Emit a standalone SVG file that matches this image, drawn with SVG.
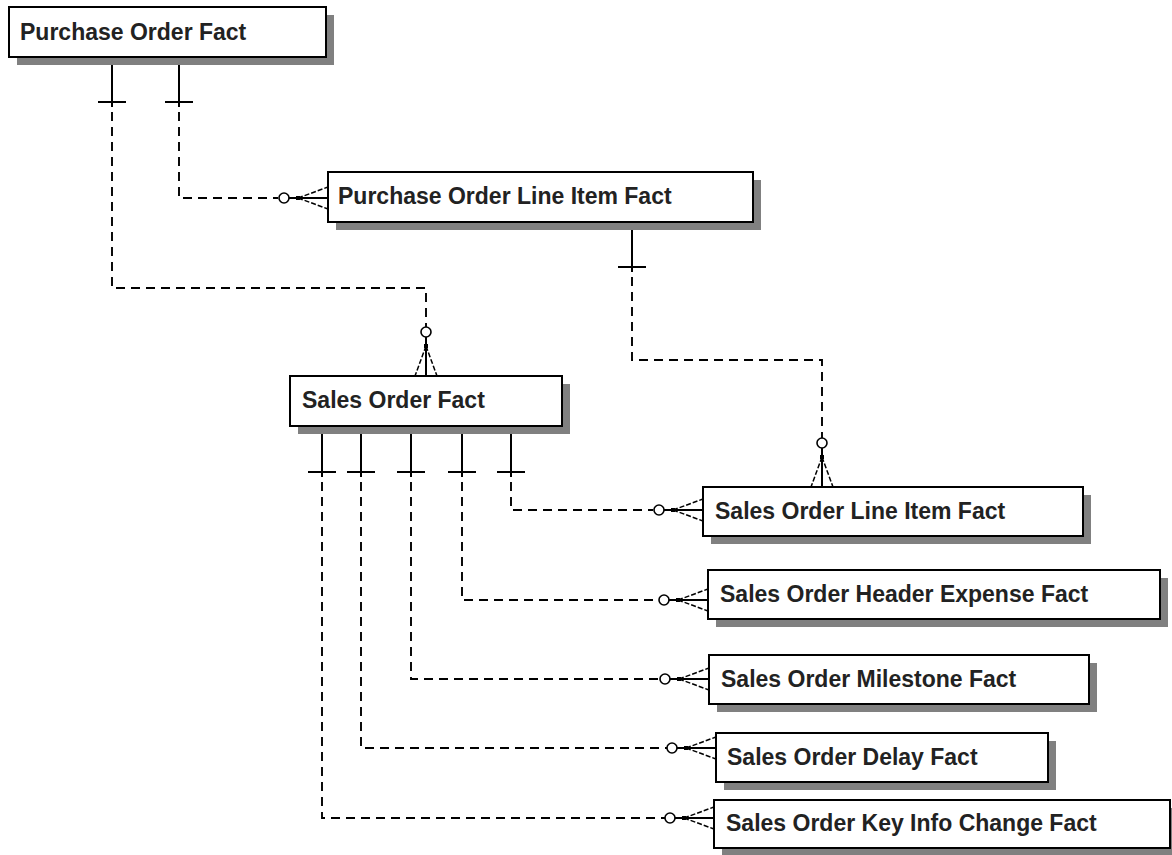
<svg xmlns="http://www.w3.org/2000/svg" width="1172" height="855" viewBox="0 0 1172 855">
<style>
.box{fill:#ffffff;stroke:#000000;stroke-width:2}
.shadow{fill:#808080;stroke:none}
.lbl{font-family:"Liberation Sans",Arial,sans-serif;font-weight:bold;font-size:23px;fill:#222222}
.solid{stroke:#000;stroke-width:2;fill:none}
.dash{stroke:#000;stroke-width:1.9;fill:none;stroke-dasharray:9 6}
.fdash{stroke:#000;stroke-width:1.5;fill:none;stroke-dasharray:5 2}
</style>
<defs>
<g id="cf">
<circle cx="-44" cy="0" r="5" fill="#fff" stroke="#000" stroke-width="1.6"/>
<line x1="-39" y1="0" x2="-30" y2="0" class="solid"/>
<rect x="-32" y="-2" width="4" height="4" fill="#000"/>
<line x1="-30" y1="0" x2="0" y2="0" class="solid"/>
<line x1="-30" y1="0" x2="0" y2="-11" class="fdash"/>
<line x1="-30" y1="0" x2="0" y2="11" class="fdash"/>
</g>
<g id="one">
<line x1="-14" y1="0" x2="14" y2="0" class="solid"/>
</g>
</defs>
<rect width="1172" height="855" fill="#ffffff"/>
<g id="connectors">
<!-- PO Fact -> Sales Order Fact -->
<path d="M112,57 V107" class="solid"/>
<use href="#one" transform="translate(112,102)"/>
<path d="M112,112 V288 H426 V327" class="dash"/>
<use href="#cf" transform="translate(426,376) rotate(90)"/>
<!-- PO Fact -> PO Line Item Fact -->
<path d="M179,57 V107" class="solid"/>
<use href="#one" transform="translate(179,102)"/>
<path d="M179,112 V198 H278" class="dash"/>
<use href="#cf" transform="translate(328,198)"/>
<!-- PO Line Item -> SO Line Item -->
<path d="M632,222 V272" class="solid"/>
<use href="#one" transform="translate(632,267)"/>
<path d="M632,277 V360 H822 V438" class="dash"/>
<use href="#cf" transform="translate(822,487) rotate(90)"/>
<!-- SO Fact -> SO Line Item -->
<path d="M511,426 V477" class="solid"/>
<use href="#one" transform="translate(511,472)"/>
<path d="M511,482 V510 H653" class="dash"/>
<use href="#cf" transform="translate(703,510)"/>
<!-- SO Fact -> Header Expense -->
<path d="M462,426 V477" class="solid"/>
<use href="#one" transform="translate(462,472)"/>
<path d="M462,482 V600 H659" class="dash"/>
<use href="#cf" transform="translate(708,600)"/>
<!-- SO Fact -> Milestone -->
<path d="M411,426 V477" class="solid"/>
<use href="#one" transform="translate(411,472)"/>
<path d="M411,482 V679 H660" class="dash"/>
<use href="#cf" transform="translate(709,679)"/>
<!-- SO Fact -> Delay -->
<path d="M361,426 V477" class="solid"/>
<use href="#one" transform="translate(361,472)"/>
<path d="M361,482 V748 H667" class="dash"/>
<use href="#cf" transform="translate(716,748)"/>
<!-- SO Fact -> Key Info Change -->
<path d="M322,426 V477" class="solid"/>
<use href="#one" transform="translate(322,472)"/>
<path d="M322,482 V818 H665" class="dash"/>
<use href="#cf" transform="translate(714,818)"/>
</g>
<g id="po-fact">
<rect class="shadow" x="17" y="15" width="317" height="50"/>
<rect class="box" x="9" y="7" width="317" height="50"/>
<text class="lbl" x="20" y="40">Purchase Order Fact</text>
</g>
<g id="po-line-item-fact">
<rect class="shadow" x="336" y="180" width="425" height="50"/>
<rect class="box" x="328" y="172" width="425" height="50"/>
<text class="lbl" x="338" y="204">Purchase Order Line Item Fact</text>
</g>
<g id="so-fact">
<rect class="shadow" x="298" y="384" width="272" height="50"/>
<rect class="box" x="290" y="376" width="272" height="50"/>
<text class="lbl" x="302" y="408">Sales Order Fact</text>
</g>
<g id="so-line-item-fact">
<rect class="shadow" x="711" y="495" width="380" height="49"/>
<rect class="box" x="703" y="487" width="380" height="49"/>
<text class="lbl" x="715" y="519">Sales Order Line Item Fact</text>
</g>
<g id="so-header-expense-fact">
<rect class="shadow" x="716" y="578" width="452" height="49"/>
<rect class="box" x="708" y="570" width="452" height="49"/>
<text class="lbl" x="720" y="602">Sales Order Header Expense Fact</text>
</g>
<g id="so-milestone-fact">
<rect class="shadow" x="717" y="663" width="380" height="49"/>
<rect class="box" x="709" y="655" width="380" height="49"/>
<text class="lbl" x="721" y="687">Sales Order Milestone Fact</text>
</g>
<g id="so-delay-fact">
<rect class="shadow" x="724" y="741" width="332" height="49"/>
<rect class="box" x="716" y="733" width="332" height="49"/>
<text class="lbl" x="727" y="765">Sales Order Delay Fact</text>
</g>
<g id="so-key-info-change-fact">
<rect class="shadow" x="722" y="808" width="456" height="48"/>
<rect class="box" x="714" y="800" width="456" height="48"/>
<text class="lbl" x="726" y="831">Sales Order Key Info Change Fact</text>
</g>
</svg>
